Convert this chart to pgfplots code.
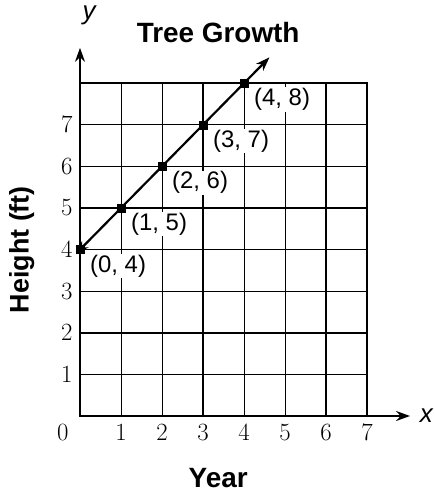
\documentclass[border=0pt]{standalone}
\usepackage{fontspec}
\setmainfont{Liberation Sans}
\usepackage{pgfplots}
\pgfplotsset{compat=1.18}
\usetikzlibrary{arrows.meta}

\begin{document}
\begin{tikzpicture}
% picture frame: the axis origin sits at (0,0)
\path[use as bounding box] (-80bp,-82bp) rectangle (355bp,416bp);
\begin{axis}[
    anchor=origin, at={(0,0)},
    x=41bp, y=41.6bp,
    xmin=0, xmax=7, ymin=0, ymax=8,
    axis line style={black, line width=1.8bp},
    xtick={1,...,7}, ytick={1,...,7},
    major tick length=0pt,
    grid=major,
    major grid style={black, line width=0.9bp},
    extra x ticks={3,6}, extra x tick labels={},
    extra x tick style={major grid style={black, line width=2.6bp}},
    extra y ticks={2,5}, extra y tick labels={},
    extra y tick style={major grid style={black, line width=2.6bp}},
    tick label style={font=\fontsize{27}{27}\selectfont},
    xticklabel style={yshift=-5bp},
    yticklabel style={xshift=-4bp},
    clip=false,
]
% axis arrows
\draw[black, line width=1.8bp, -{Stealth[length=14bp,width=10bp]}] (axis cs:0,8) -- (axis cs:0,8.85);
\draw[black, line width=1.8bp, -{Stealth[length=14bp,width=10bp]}] (axis cs:7,0) -- (axis cs:8.05,0);

% the line, with arrows at both ends
\addplot[black, line width=2.2bp, {Stealth[length=12bp,width=9bp]}-{Stealth[length=14bp,width=10bp]}]
    coordinates {(-0.08,3.92) (4.62,8.62)};
\addplot[black, only marks, mark=square*, mark size=4bp]
    coordinates {(0,4) (1,5) (2,6) (3,7) (4,8)};

% point labels
\foreach \px/\py in {0/4,1/5,2/6,3/7,4/8}{
  \edef\tmp{\noexpand\node[anchor=north west, fill=white, inner sep=1bp,
      font=\noexpand\fontsize{24}{24}\noexpand\selectfont, xshift=9bp, yshift=-4bp]
      at (axis cs:\px,\py) {(\px, \py)};}
  \tmp
}

% other text
\node[anchor=north east, font=\fontsize{27}{27}\selectfont, xshift=-8bp, yshift=-5bp] at (axis cs:0,0) {$0$};
\node[font=\bfseries\fontsize{28}{28}\selectfont] at (axis cs:3.37,9.23) {Tree Growth};
\node[font=\itshape\fontsize{26}{26}\selectfont] at (axis cs:0.22,9.62) {y};
\node[font=\itshape\fontsize{26}{26}\selectfont] at (axis cs:8.45,0) {x};
\node[font=\bfseries\fontsize{28}{28}\selectfont] at (axis cs:3.37,-1.5) {Year};
\node[font=\bfseries\fontsize{27}{27}\selectfont, rotate=90] at (axis cs:-1.42,4.0) {Height (ft)};
\end{axis}
\end{tikzpicture}
\end{document}
